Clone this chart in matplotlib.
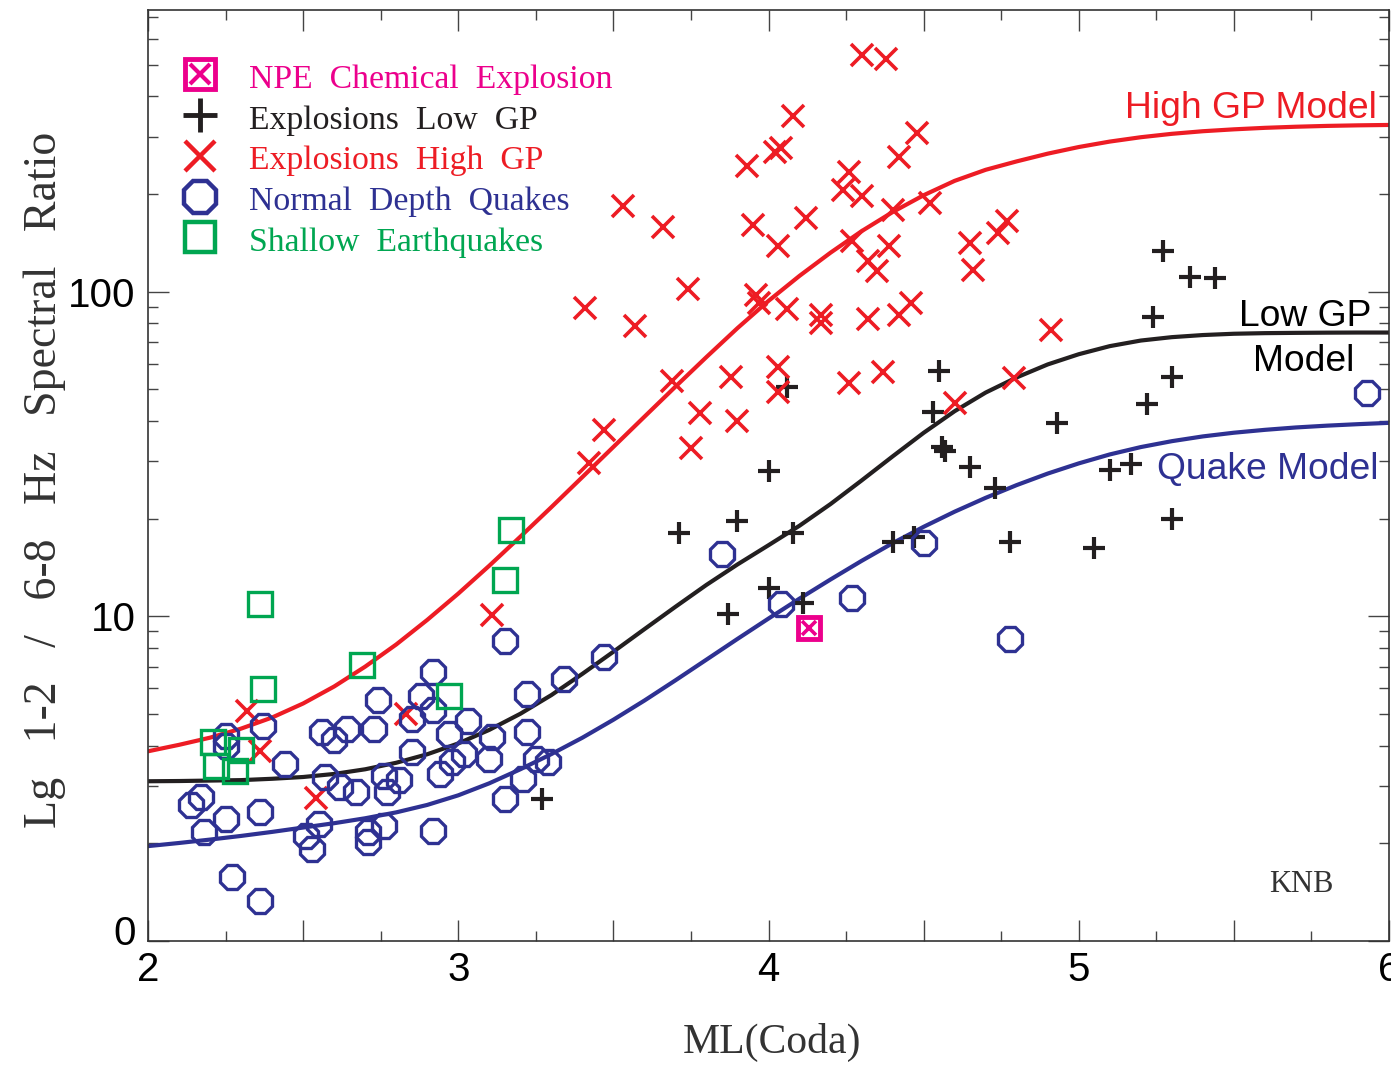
import numpy as np
import matplotlib
matplotlib.use('Agg')
import matplotlib.pyplot as plt
from matplotlib.lines import Line2D
from matplotlib.legend_handler import HandlerTuple
from matplotlib.ticker import (FixedLocator, MultipleLocator, LogLocator,
                               NullFormatter, FuncFormatter)
from matplotlib.transforms import ScaledTranslation

# ---------------- data ----------------
# Normal depth quakes
quake_ml = [2.14, 2.17, 2.18, 2.25, 2.25, 2.25, 2.27, 2.36, 2.36, 2.37, 2.44, 2.51,
            2.53, 2.55, 2.56, 2.57, 2.60, 2.62, 2.64, 2.67, 2.71, 2.71, 2.73, 2.74,
            2.76, 2.76, 2.77, 2.81, 2.85, 2.85, 2.88, 2.92, 2.92, 2.92, 2.94, 2.97,
            2.98, 3.02, 3.03, 3.10, 3.11, 3.15, 3.15, 3.21, 3.22, 3.22, 3.25, 3.29,
            3.34, 3.47, 3.85, 4.04, 4.27, 4.50, 4.78, 5.93]
quake_ratio = [2.62, 2.77, 2.16, 2.37, 4.27, 3.98, 1.58, 1.33, 2.49, 4.59, 3.50, 2.10,
               1.92, 2.29, 4.40, 3.20, 4.15, 2.98, 4.49, 2.87, 2.16, 2.02, 4.49, 5.52,
               3.22, 2.26, 2.87, 3.13, 4.82, 3.82, 5.67, 5.14, 6.73, 2.18, 3.26, 4.34,
               3.55, 3.76, 4.75, 3.63, 4.24, 8.38, 2.74, 3.15, 5.75, 4.40, 3.63, 3.55,
               6.40, 7.48, 15.6, 10.9, 11.4, 16.8, 8.50, 48.9]

# Explosions, low gas porosity
low_ml = [3.27, 3.71, 3.87, 3.90, 4.00, 4.00, 4.06, 4.08, 4.11, 4.40, 4.47, 4.53,
          4.55, 4.56, 4.57, 4.65, 4.73, 4.78, 4.93, 5.05, 5.10, 5.17, 5.22, 5.24,
          5.27, 5.30, 5.30, 5.36, 5.44]
low_ratio = [2.74, 18.0, 10.2, 19.6, 28.1, 12.2, 51.0, 18.0, 11.0, 17.0, 17.6, 42.7,
             57.1, 33.3, 32.2, 28.8, 24.9, 17.0, 39.5, 16.2, 28.3, 29.4, 45.2, 83.8,
             133, 54.7, 20.0, 111, 110]

# Explosions, high gas porosity
high_ml = [4.30, 4.38, 4.08, 4.02, 4.04, 3.93, 4.48, 4.42, 4.26, 4.24, 4.30, 3.53,
           3.66, 3.95, 4.12, 4.03, 4.40, 4.52, 4.27, 4.39, 4.65, 4.74, 4.77, 4.32,
           4.35, 4.66, 3.41, 3.57, 3.74, 3.96, 3.97, 4.06, 4.17, 4.17, 4.32, 4.42,
           4.46, 4.91, 3.69, 3.88, 4.03, 4.03, 4.26, 4.37, 3.78, 3.90, 3.75, 3.47,
           3.42, 4.79, 4.60, 2.32, 2.36, 2.54, 2.83, 3.11]
high_ratio = [536, 521, 348, 270, 277, 244, 308, 260, 234, 206, 197, 183,
              158, 161, 169, 138, 178, 188, 143, 138, 141, 152, 165, 124,
              116, 117, 89.3, 78.6, 102, 97.9, 92.5, 88.7, 84.9, 80.3, 82.6, 84.9,
              92.5, 76.4, 53.2, 54.7, 58.8, 49.2, 52.5, 56.7, 42.4, 40.1, 32.9, 37.6,
              29.6, 54.4, 45.5, 5.10, 3.84, 2.75, 4.99, 10.1]

# Shallow earthquakes
shallow_ml = [2.21, 2.22, 2.28, 2.30, 2.36, 2.37, 2.69, 2.97, 3.15, 3.17]
shallow_ratio = [4.10, 3.45, 3.34, 3.87, 10.9, 5.96, 7.07, 5.67, 12.9, 18.5]

# NPE chemical explosion
npe_ml = [4.13]
npe_ratio = [9.19]

# Model curves, every 0.1 magnitude unit
model_ml = [2.0, 2.1, 2.2, 2.3, 2.4, 2.5, 2.6, 2.7, 2.8, 2.9,
            3.0, 3.1, 3.2, 3.3, 3.4, 3.5, 3.6, 3.7, 3.8, 3.9,
            4.0, 4.1, 4.2, 4.3, 4.4, 4.5, 4.6, 4.7, 4.8, 4.9,
            5.0, 5.1, 5.2, 5.3, 5.4, 5.5, 5.6, 5.7, 5.8, 5.9, 6.0]
high_model_ratio = [3.84, 4.02, 4.23, 4.51, 4.88, 5.39, 6.08, 7.00, 8.19, 9.75,
                    11.75, 14.32, 17.59, 21.69, 26.85, 33.25, 41.19, 50.98, 62.91, 77.23,
                    93.7, 111.9, 131.9, 153.6, 175.9, 198.2, 219.5, 237.4, 252.0, 266.2,
                    279.0, 290.0, 299.1, 306.4, 312.1, 316.3, 319.7, 322.2, 324.1, 325.4,
                    326.3]
low_model_ratio = [3.105, 3.11, 3.12, 3.13, 3.16, 3.20, 3.27, 3.38, 3.54, 3.76,
                   4.06, 4.47, 5.01, 5.72, 6.65, 7.78, 9.13, 10.70, 12.50, 14.45,
                   16.56, 19.02, 22.18, 26.21, 31.09, 36.75, 42.85, 48.90, 54.45, 59.70,
                   64.18, 67.97, 70.72, 72.44, 73.53, 74.21, 74.53, 74.68, 74.79, 74.85,
                   74.85]
quake_model_ratio = [1.960, 2.004, 2.053, 2.107, 2.168, 2.236, 2.306, 2.388, 2.490, 2.625,
                     2.810, 3.060, 3.380, 3.764, 4.228, 4.803, 5.503, 6.352, 7.356, 8.521,
                     9.845, 11.34, 12.99, 14.82, 16.80, 18.87, 21.01, 23.18, 25.37, 27.53,
                     29.59, 31.53, 33.22, 34.64, 35.83, 36.78, 37.54, 38.18, 38.67, 39.08,
                     39.45]

legend_labels = ['NPE  Chemical  Explosion', 'Explosions  Low  GP',
                 'Explosions  High  GP', 'Normal  Depth  Quakes',
                 'Shallow  Earthquakes']
y_tick_values = [1, 10, 100]
y_tick_labels = ['0', '10', '100']

# ---------------- style ----------------
RED = '#ED1C24'
BLUE = '#2E3192'
GREEN = '#00A651'
MAGENTA = '#EC008C'
BLACK = '#231F20'
SANS = ['Liberation Sans', 'DejaVu Sans']
SERIF = ['Liberation Serif', 'DejaVu Serif']

plt.rcParams['font.family'] = SANS

fig = plt.figure(figsize=(13.91, 10.73), dpi=100)
ax = fig.add_axes([148 / 1391, 1 - 941 / 1073, 1241 / 1391, 931.5 / 1073])
ax.set_yscale('log')
ax.set_xlim(2, 6)
ax.set_ylim(1, 740)

# model curves
ax.plot(model_ml, high_model_ratio, color=RED, lw=3.0, zorder=2)
ax.plot(model_ml, low_model_ratio, color=BLACK, lw=3.0, zorder=2)
ax.plot(model_ml, quake_model_ratio, color=BLUE, lw=3.0, zorder=2)

# data points
ax.plot(low_ml, low_ratio, ls='none', marker='+', ms=16, mew=3.0, color=BLACK, zorder=3)
ax.plot(high_ml, high_ratio, ls='none', marker='x', ms=16, mew=2.6, color=RED, zorder=3)
ax.plot(quake_ml, quake_ratio, ls='none', marker='8', ms=18, mew=2.4,
        mfc='none', mec=BLUE, zorder=4)
ax.plot(shallow_ml, shallow_ratio, ls='none', marker='s', ms=17, mew=2.4,
        mfc='none', mec=GREEN, zorder=5)
ax.plot(npe_ml, npe_ratio, ls='none', marker='s', ms=16, mew=3.5,
        mfc='none', mec=MAGENTA, zorder=6)
ax.plot(npe_ml, npe_ratio, ls='none', marker='x', ms=10, mew=2.6,
        color=MAGENTA, zorder=6)

# ticks
ax.xaxis.set_major_locator(MultipleLocator(0.5))
ax.xaxis.set_minor_locator(MultipleLocator(0.25))
ax.xaxis.set_major_formatter(FuncFormatter(
    lambda v, p: f'{v:.0f}' if abs(v - round(v)) < 1e-6 else ''))
ax.yaxis.set_major_locator(FixedLocator(y_tick_values))
ax.yaxis.set_major_formatter(FuncFormatter(
    lambda v, p: y_tick_labels[y_tick_values.index(int(round(v)))]
    if int(round(v)) in y_tick_values else ''))
ax.yaxis.set_minor_locator(LogLocator(base=10, subs=np.arange(2, 10)))
ax.yaxis.set_minor_formatter(NullFormatter())

ax.tick_params(which='both', direction='in', top=True, right=True,
               color='#444444', width=1.0)
ax.tick_params(which='major', length=15)
ax.tick_params(which='minor', length=7.5)
ax.tick_params(axis='x', which='major', labelsize=29, pad=7)
ax.tick_params(axis='y', which='major', labelsize=29, pad=9)
for s in ax.spines.values():
    s.set_linewidth(1.2)
    s.set_color('#333333')

for lab in ax.get_yticklabels():
    if lab.get_text() == '0':
        lab.set_transform(lab.get_transform() +
                          ScaledTranslation(0, 11 / 100, fig.dpi_scale_trans))

# axis labels
ax.set_xlabel('ML(Coda)', family=SERIF, fontsize=30, color='#333333')
ax.xaxis.set_label_coords(0.5027, -0.088)
ax.set_ylabel('Lg   1-2   /   6-8   Hz   Spectral   Ratio', family=SERIF,
              fontsize=33, color='#333333')
ax.yaxis.set_label_coords(-0.066, 0.495)

# model labels
ax.text(5.962, 343, 'High GP Model', color=RED, ha='right', va='baseline',
        fontsize=26.8, family=SANS)
ax.text(5.73, 78.5, 'Low GP', color='black', ha='center', va='baseline',
        fontsize=26.8, family=SANS)
ax.text(5.725, 57.1, 'Model', color='black', ha='center', va='baseline',
        fontsize=26.8, family=SANS)
ax.text(5.965, 26.4, 'Quake Model', color=BLUE, ha='right', va='baseline',
        fontsize=26.8, family=SANS)
ax.text(5.716, 1.416, 'KNB', color='#333333', ha='center', va='baseline',
        fontsize=22, family=SERIF)

# legend
h_npe = (Line2D([], [], ls='none', marker='s', ms=22, mew=3.5, mfc='none', mec=MAGENTA),
         Line2D([], [], ls='none', marker='x', ms=14, mew=3.0, color=MAGENTA))
h_low = Line2D([], [], ls='none', marker='+', ms=24, mew=3.5, color=BLACK)
h_high = Line2D([], [], ls='none', marker='x', ms=22, mew=3.2, color=RED)
h_quake = Line2D([], [], ls='none', marker='8', ms=25, mew=3.2, mfc='none', mec=BLUE)
h_shallow = Line2D([], [], ls='none', marker='s', ms=22, mew=3.2, mfc='none', mec=GREEN)
leg = ax.legend([h_npe, h_low, h_high, h_quake, h_shallow], legend_labels,
                handler_map={tuple: HandlerTuple(ndivide=1)},
                loc='upper left', bbox_to_anchor=(0.0286, 0.9446),
                borderaxespad=0, borderpad=0, frameon=False, numpoints=1,
                handlelength=1.0, handleheight=1.0, handletextpad=0.95,
                labelspacing=0.21, prop={'family': SERIF, 'size': 24.3},
                labelcolor=[MAGENTA, BLACK, RED, BLUE, GREEN])

fig.savefig('out.png', dpi=100)
